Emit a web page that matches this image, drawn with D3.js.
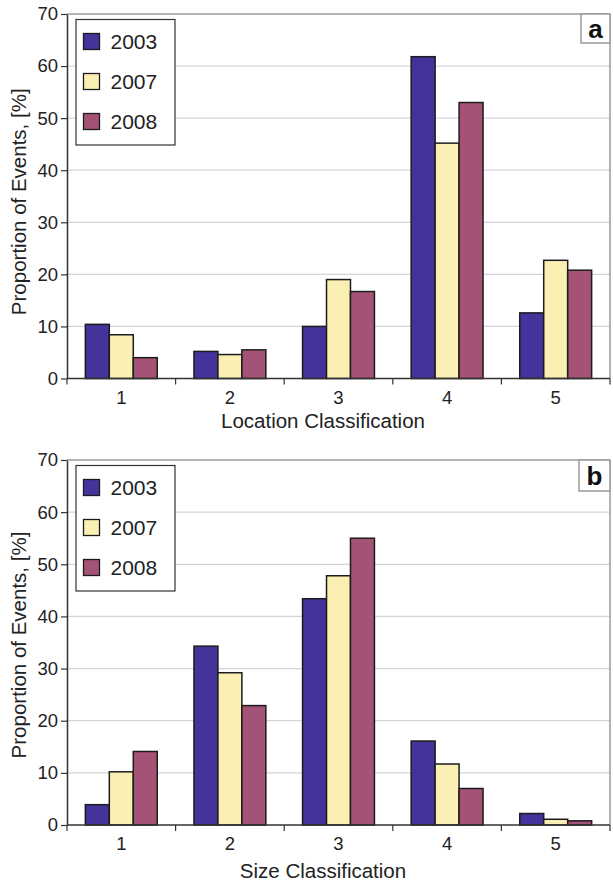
<!DOCTYPE html>
<html>
<head>
<meta charset="utf-8">
<script src="https://cdn.jsdelivr.net/npm/d3@7"></script>
<style>
  html, body { margin: 0; padding: 0; background: #fff; }
  svg { display: block; font-family: "Liberation Sans", Arial, Helvetica, sans-serif; }
</style>
</head>
<body>
<svg id="chart" width="613" height="884"></svg>
<script>
// ---- Data ----
const categories = ["1", "2", "3", "4", "5"];
const seriesNames = ["2003", "2007", "2008"];
const seriesColors = ["#44339a", "#faf0b4", "#a55277"];
const yTicks = [0, 10, 20, 30, 40, 50, 60, 70];

const locA2003 = [10.4, 5.2, 10.0, 61.8, 12.6];
const locA2007 = [8.4, 4.6, 19.0, 45.2, 22.7];
const locA2008 = [4.0, 5.5, 16.7, 53.0, 20.8];

const sizeB2003 = [3.9, 34.3, 43.4, 16.1, 2.2];
const sizeB2007 = [10.2, 29.2, 47.8, 11.7, 1.1];
const sizeB2008 = [14.1, 22.9, 55.0, 7.0, 0.8];

const panels = [
  { label: "a", xTitle: "Location Classification", series: [locA2003, locA2007, locA2008],
    top: 14, bottom: 378.5, xTitleOffset: 49, yTitleShift: 5.5, boxSize: 29 },
  { label: "b", xTitle: "Size Classification", series: [sizeB2003, sizeB2007, sizeB2008],
    top: 460, bottom: 825, xTitleOffset: 53, yTitleShift: 2.5, boxSize: 31 }
];

const svg = d3.select("#chart");
const left = 67, right = 610;

panels.forEach(p => {
  const g = svg.append("g");
  const y = d3.scaleLinear().domain([0, 70]).range([p.bottom, p.top]);
  const x0 = d3.scaleBand().domain(categories).range([left, right])
      .paddingInner(0.338).paddingOuter(0.169);
  const x1 = d3.scaleBand().domain(seriesNames).range([0, x0.bandwidth()]);

  // gridlines
  g.append("g").selectAll("line").data(yTicks.filter(t => t > 0 && t < 70)).join("line")
    .attr("x1", left).attr("x2", right)
    .attr("y1", d => y(d)).attr("y2", d => y(d))
    .attr("stroke", "#d4d4de").attr("stroke-width", 1.2);

  // top & right border
  g.append("line").attr("x1", left).attr("x2", right).attr("y1", y(70)).attr("y2", y(70))
    .attr("stroke", "#9a9a9a").attr("stroke-width", 1.5);
  g.append("line").attr("x1", right).attr("x2", right).attr("y1", y(70)).attr("y2", y(0))
    .attr("stroke", "#9a9a9a").attr("stroke-width", 1.5);

  // bars
  const rows = categories.map((c, i) => ({ c, vals: seriesNames.map((s, j) => ({ s, j, v: p.series[j][i] })) }));
  g.append("g").selectAll("g").data(rows).join("g")
    .attr("transform", d => `translate(${x0(d.c)},0)`)
    .selectAll("rect").data(d => d.vals).join("rect")
      .attr("x", d => x1(d.s))
      .attr("width", x1.bandwidth())
      .attr("y", d => y(d.v))
      .attr("height", d => y(0) - y(d.v))
      .attr("fill", d => seriesColors[d.j])
      .attr("stroke", "#1c1c1c").attr("stroke-width", 1.5);

  // y axis
  const yAxis = d3.axisLeft(y).tickValues(yTicks).tickSize(6).tickPadding(3).tickSizeOuter(0);
  const ya = g.append("g").attr("transform", `translate(${left},0)`).call(yAxis);
  ya.attr("font-size", null).attr("font-family", null);
  ya.select(".domain").attr("stroke", "#333").attr("stroke-width", 1.5);
  ya.selectAll(".tick line").attr("stroke", "#333").attr("stroke-width", 1.2);
  ya.selectAll(".tick text").attr("font-size", 18.5).attr("fill", "#222");

  // x axis: line at zero, ticks at band boundaries
  const xa = g.append("g").attr("transform", `translate(0,${y(0)})`);
  xa.append("line").attr("x1", left).attr("x2", right).attr("stroke", "#333").attr("stroke-width", 1.5);
  const step = x0.step();
  const bounds = d3.range(categories.length + 1).map(i => left + i * step);
  xa.selectAll("line.tk").data(bounds).join("line").attr("class", "tk")
    .attr("x1", d => d).attr("x2", d => d).attr("y1", 0).attr("y2", 6)
    .attr("stroke", "#333").attr("stroke-width", 1.2);
  xa.selectAll("text").data(categories).join("text")
    .attr("x", d => x0(d) + x0.bandwidth() / 2).attr("y", 25)
    .attr("text-anchor", "middle").attr("font-size", 18.5).attr("fill", "#222")
    .text(d => d);

  // x title
  g.append("text").attr("x", (left + right) / 2 - 15.5).attr("y", y(0) + p.xTitleOffset)
    .attr("text-anchor", "middle").attr("font-size", 20.5).attr("fill", "#222").text(p.xTitle);

  // y title
  g.append("text")
    .attr("transform", `translate(25.5,${(p.top + p.bottom) / 2 + p.yTitleShift}) rotate(-90)`)
    .attr("text-anchor", "middle").attr("font-size", 20.5).attr("fill", "#222")
    .text("Proportion of Events, [%]");

  // legend
  const lg = g.append("g").attr("transform", `translate(76,${p.top + 5.5})`);
  lg.append("rect").attr("x", 0).attr("y", 0).attr("width", 99).attr("height", 125.5)
    .attr("fill", "#fff").attr("stroke", "#333").attr("stroke-width", 1.2);
  seriesNames.forEach((s, j) => {
    const yy = 14 + j * 40;
    lg.append("rect").attr("x", 7.5).attr("y", yy).attr("width", 16).attr("height", 16)
      .attr("fill", seriesColors[j]).attr("stroke", "#1c1c1c").attr("stroke-width", 1.3);
    lg.append("text").attr("x", 34.5).attr("y", yy + 15.5).attr("font-size", 21).attr("fill", "#222").text(s);
  });

  // panel label box
  const bs = p.boxSize;
  const bx = g.append("g").attr("transform", `translate(${right - bs},${p.top})`);
  bx.append("rect").attr("x", 0).attr("y", 0).attr("width", bs).attr("height", bs)
    .attr("fill", "#fff").attr("stroke", "#9a9a9a").attr("stroke-width", 1.5);
  bx.append("text").attr("x", bs / 2).attr("y", bs / 2 + 9.5).attr("text-anchor", "middle")
    .attr("font-size", 26).attr("font-weight", "bold").attr("fill", "#111").text(p.label);
});
</script>
</body>
</html>
